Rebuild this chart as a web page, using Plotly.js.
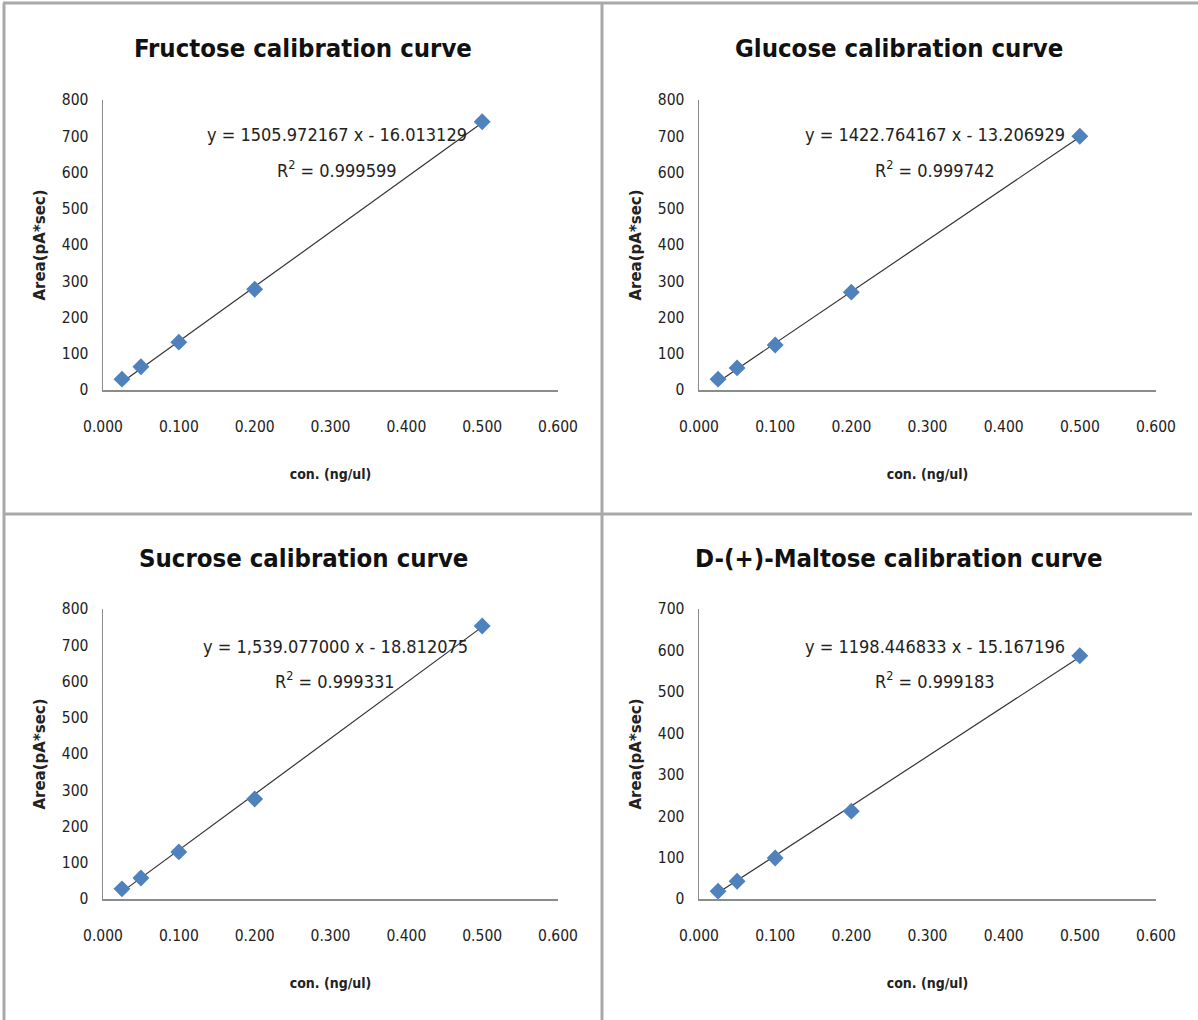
<!DOCTYPE html>
<html>
<head>
<meta charset="utf-8">
<script src="https://cdn.plot.ly/plotly-3.0.1.min.js"></script>
<style>
  html, body { margin: 0; padding: 0; background: #ffffff; }
  #chart { width: 1198px; height: 1020px; }
</style>
</head>
<body>
<div id="chart"></div>
<script>
// ---- data ----
const conc = [0.025, 0.05, 0.1, 0.2, 0.5];
const fructoseArea = [30, 64, 132, 278, 740];
const glucoseArea = [30, 61, 124, 270, 700];
const sucroseArea = [28, 58, 130, 276, 753];
const maltoseArea = [19, 43, 99, 212, 587];

const panelTitles = ["Fructose calibration curve", "Glucose calibration curve", "Sucrose calibration curve", "D-(+)-Maltose calibration curve"];
const slopes = [1505.972167, 1422.764167, 1539.077000, 1198.446833];
const intercepts = [-16.013129, -13.206929, -18.812075, -15.167196];
const equationTexts = ["y = 1505.972167 x - 16.013129", "y = 1422.764167 x - 13.206929", "y = 1,539.077000 x - 18.812075", "y = 1198.446833 x - 15.167196"];
const r2Texts = ["R<sup>2</sup> = 0.999599", "R<sup>2</sup> = 0.999742", "R<sup>2</sup> = 0.999331", "R<sup>2</sup> = 0.999183"];
const yMax = [800, 800, 800, 700];
const xTickVals = [0, 0.1, 0.2, 0.3, 0.4, 0.5, 0.6];
const xTickText = ["0.000", "0.100", "0.200", "0.300", "0.400", "0.500", "0.600"];
const xAxisLabel = "con. (ng/ul)";
const yAxisLabel = "Area(pA*sec)";

const series = [fructoseArea, glucoseArea, sucroseArea, maltoseArea];

// ---- layout geometry (pixels) ----
const W = 1198, H = 1020;
const FONT = "'DejaVu Sans Condensed', 'Liberation Sans Narrow', Lato, sans-serif";
const YFONT = "'DejaVu Sans', Verdana, sans-serif";
const panels = [
  {x0: 103, x1: 558, yTop: 100, yBot: 390, cx: 303, ty: 48, ex: 337, ey: 135},
  {x0: 699, x1: 1156, yTop: 100, yBot: 390, cx: 899, ty: 48, ex: 935, ey: 135},
  {x0: 103, x1: 558, yTop: 609, yBot: 899, cx: 303, ty: 558, ex: 335, ey: 646},
  {x0: 699, x1: 1156, yTop: 609, yBot: 899, cx: 899, ty: 558, ex: 935, ey: 646}
];
const px = v => v / W;
const py = v => 1 - v / H;

const data = [];
const layout = {
  width: W, height: H,
  margin: {l: 0, r: 0, t: 0, b: 0},
  paper_bgcolor: "#ffffff",
  plot_bgcolor: "#ffffff",
  showlegend: false,
  font: {family: FONT, color: "#222222"},
  annotations: [],
  shapes: []
};

panels.forEach((p, i) => {
  const n = i + 1;
  const xa = "x" + (n === 1 ? "" : n);
  const ya = "y" + (n === 1 ? "" : n);
  const xKey = "xaxis" + (n === 1 ? "" : n);
  const yKey = "yaxis" + (n === 1 ? "" : n);

  // trendline through the reported regression
  const xl = [conc[0], conc[conc.length - 1]];
  data.push({
    type: "scatter", mode: "lines", x: xl, y: xl.map(v => slopes[i] * v + intercepts[i]),
    xaxis: xa, yaxis: ya, line: {color: "#333333", width: 1.2}, hoverinfo: "skip"
  });
  data.push({
    type: "scatter", mode: "markers", x: conc, y: series[i], xaxis: xa, yaxis: ya,
    marker: {symbol: "diamond", size: 13, color: "#4F81BD", line: {width: 0}}
  });

  layout[xKey] = {
    domain: [px(p.x0), px(p.x1)], anchor: ya, range: [0, 0.6],
    tickvals: xTickVals, ticktext: xTickText, showgrid: false, zeroline: false,
    showline: true, linecolor: "#8c8c8c", linewidth: 1.5, ticks: "",
    ticklabelstandoff: 22, tickfont: {size: 15.5, family: FONT, color: "#222222"},
    title: {text: "<b>" + xAxisLabel + "</b>", standoff: 34, font: {size: 14, family: FONT, color: "#222222"}},
    automargin: false, fixedrange: true
  };
  layout[yKey] = {
    domain: [py(p.yBot), py(p.yTop)], anchor: xa, range: [0, yMax[i]], dtick: 100,
    showgrid: false, zeroline: false, showline: true, linecolor: "#8c8c8c", linewidth: 1.5,
    ticks: "", ticklabelstandoff: 10, tickfont: {size: 15.5, family: FONT, color: "#222222"},
    title: {text: "<b>" + yAxisLabel + "</b>", standoff: 12, font: {size: 15, family: YFONT, color: "#222222"}},
    automargin: false, fixedrange: true
  };

  layout.annotations.push(
    {xref: "paper", yref: "paper", x: px(p.cx), y: py(p.ty), text: "<b>" + panelTitles[i] + "</b>",
     showarrow: false, font: {size: 25.5, family: FONT, color: "#111111"}, xanchor: "center", yanchor: "middle"},
    {xref: "paper", yref: "paper", x: px(p.ex), y: py(p.ey), text: equationTexts[i],
     showarrow: false, font: {size: 18, family: FONT, color: "#222222"}, xanchor: "center", yanchor: "middle"},
    {xref: "paper", yref: "paper", x: px(p.ex), y: py(p.ey + 34), text: r2Texts[i],
     showarrow: false, font: {size: 18, family: FONT, color: "#222222"}, xanchor: "center", yanchor: "middle"}
  );
});

// panel border lines
const borderColor = "#a9a9a9";
layout.shapes.push(
  {type: "line", xref: "paper", yref: "paper", x0: px(3), x1: 1, y0: py(3), y1: py(3), line: {color: borderColor, width: 3}},
  {type: "line", xref: "paper", yref: "paper", x0: px(4), x1: px(4), y0: py(3), y1: 0, line: {color: borderColor, width: 3}},
  {type: "line", xref: "paper", yref: "paper", x0: px(602), x1: px(602), y0: py(3), y1: 0, line: {color: borderColor, width: 3}},
  {type: "line", xref: "paper", yref: "paper", x0: px(4), x1: px(1192), y0: py(514), y1: py(514), line: {color: borderColor, width: 3}}
);

Plotly.newPlot("chart", data, layout, {displayModeBar: false, staticPlot: true});
</script>
</body>
</html>
